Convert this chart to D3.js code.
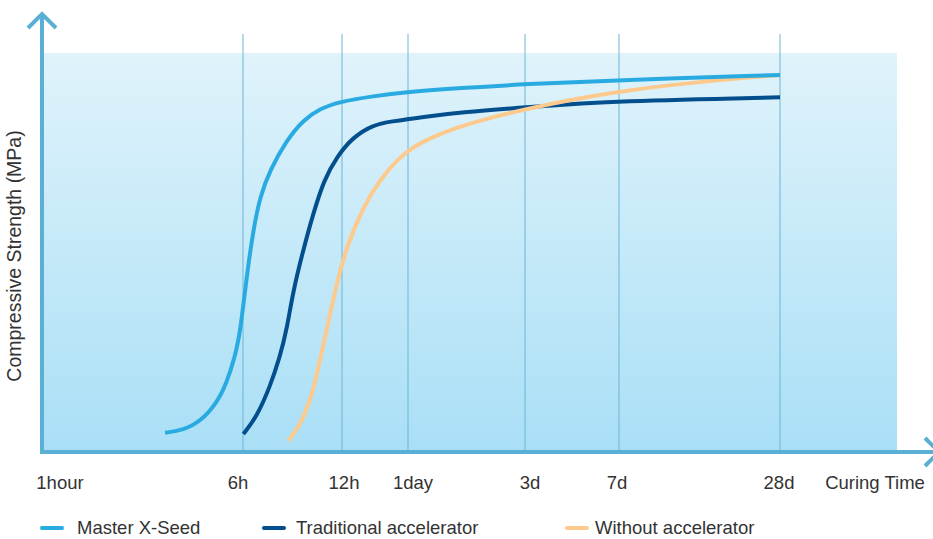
<!DOCTYPE html>
<html>
<head>
<meta charset="utf-8">
<script src="https://cdn.jsdelivr.net/npm/d3@7"></script>
<style>
  body { margin: 0; background: #fff; }
  text { font-family: "Liberation Sans", Arial, sans-serif; fill: #333; }
</style>
</head>
<body>
<div id="chart"></div>
<script>
// Tick hours and labels on the curing time axis
const tickHours = [1, 6, 12, 24, 72, 168, 672];
const tickLabels = ["1hour", "6h", "12h", "1day", "3d", "7d", "28d"];
const gridHours = [6, 12, 24, 72, 168, 672];

// Series (time in hours, relative strength 0-100)
const seriesNames = ["Master X-Seed", "Traditional accelerator", "Without accelerator"];

const xSeedHours = [3.87, 4.37, 4.83, 5.28, 5.55, 5.78, 5.92, 6.22, 6.62, 7.03, 7.64, 8.65, 9.65, 10.67, 11.88, 17.69, 23.76, 45.3, 72, 168, 672];
const xSeedStrength = [4.8, 5.5, 7.6, 12.2, 17.2, 23.9, 29.7, 43.9, 55.6, 64.0, 70.7, 78.2, 83.2, 86.1, 87.8, 89.2, 90.2, 91.2, 92.2, 93.2, 94.5];

const tradHours = [6.02, 6.83, 7.64, 8.24, 8.65, 9.05, 9.65, 10.26, 10.91, 11.68, 14.05, 17.69, 20.73, 30.28, 45.3, 72, 168, 672];
const tradStrength = [4.5, 8.8, 16.4, 23.9, 30.6, 40.6, 50.6, 59.8, 68.2, 74.0, 79.0, 82.0, 82.8, 84.0, 85.1, 86.4, 88.0, 88.9];

const noAccHours = [8.75, 9.65, 10.26, 10.67, 11.07, 11.68, 12.85, 15.87, 18.91, 21.94, 26.17, 34.38, 45.3, 72, 168, 420.6, 672];
const noAccStrength = [2.8, 8.0, 15.5, 23.1, 30.6, 42.3, 51.5, 61.5, 68.2, 73.2, 76.5, 79.0, 81.7, 86.1, 90.5, 92.8, 94.5];

const colors = ["#29abe2", "#034f8e", "#fdc98c"];

// Layout
const w = 933;
const h = 539;
const plotLeft = 42, plotRight = 897, plotTop = 53, plotBottom = 452;
const axisColor = "#5aafd4";

const svg = d3.select("#chart")
              .append("svg")
              .attr("width", w)
              .attr("height", h);

// gradient background
const grad = svg.append("defs")
                .append("linearGradient")
                .attr("id", "bg")
                .attr("x1", 0).attr("y1", 0)
                .attr("x2", 0).attr("y2", 1);
grad.append("stop").attr("offset", "0%").attr("stop-color", "#e0f3fb");
grad.append("stop").attr("offset", "100%").attr("stop-color", "#a9dff6");

svg.append("rect")
   .attr("x", plotLeft)
   .attr("y", plotTop)
   .attr("width", plotRight - plotLeft)
   .attr("height", plotBottom - plotTop)
   .attr("fill", "url(#bg)");

// piecewise scale: the tick spacing on the original is not uniform
const xScale = d3.scaleLinear()
                 .domain(tickHours)
                 .range([60, 243, 342, 408, 525, 619, 780]);
const yScale = d3.scaleLinear()
                 .domain([0, 100])
                 .range([plotBottom, plotTop]);

// vertical grid lines
svg.selectAll(".grid")
   .data(gridHours)
   .enter()
   .append("line")
   .attr("class", "grid")
   .attr("x1", d => xScale(d))
   .attr("x2", d => xScale(d))
   .attr("y1", 34)
   .attr("y2", plotBottom)
   .attr("stroke", "#6cb5d6")
   .attr("stroke-width", 1);

// curves (basis spline smooths out reading noise)
const line = d3.line()
               .x(d => xScale(d[0]))
               .y(d => yScale(d[1]))
               .curve(d3.curveBasis);

const series = [
    d3.zip(xSeedHours, xSeedStrength),
    d3.zip(tradHours, tradStrength),
    d3.zip(noAccHours, noAccStrength)
];

// draw order: traditional, without, master on top
[1, 2, 0].forEach(i => {
    svg.append("path")
       .datum(series[i])
       .attr("d", line)
       .attr("fill", "none")
       .attr("stroke", colors[i])
       .attr("stroke-width", 4);
});

// axes with arrow heads
const axes = svg.append("g")
                .attr("stroke", axisColor)
                .attr("stroke-width", 4)
                .attr("fill", "none");
axes.append("line").attr("x1", plotLeft).attr("x2", plotLeft).attr("y1", plotBottom + 2).attr("y2", 15);
axes.append("path").attr("d", `M${plotLeft - 14},28 L${plotLeft},14 L${plotLeft + 14},28`);
axes.append("line").attr("x1", plotLeft - 2).attr("x2", 938).attr("y1", plotBottom).attr("y2", plotBottom);
axes.append("path").attr("d", `M925,${plotBottom - 14} L939,${plotBottom} L925,${plotBottom + 14}`);

// tick labels (small nudges as in the original artwork)
const labelDx = [0, -5, 2, 5, 5, -2, -1];
svg.selectAll(".tick")
   .data(tickHours)
   .enter()
   .append("text")
   .attr("class", "tick")
   .attr("x", (d, i) => xScale(d) + labelDx[i])
   .attr("y", 489)
   .attr("text-anchor", "middle")
   .style("font-size", "18.5px")
   .text((d, i) => tickLabels[i]);

svg.append("text")
   .attr("x", 875)
   .attr("y", 489)
   .attr("text-anchor", "middle")
   .style("font-size", "18.5px")
   .text("Curing Time");

svg.append("text")
   .attr("transform", "translate(21,256) rotate(-90)")
   .attr("text-anchor", "middle")
   .style("font-size", "19.5px")
   .text("Compressive Strength (MPa)");

// legend
const legendX = [40, 262, 565];
const legendTextX = [77, 296, 595];
const legend = svg.selectAll(".legend")
                  .data(seriesNames)
                  .enter()
                  .append("g")
                  .attr("class", "legend");
legend.append("line")
      .attr("x1", (d, i) => legendX[i] + 2)
      .attr("x2", (d, i) => legendX[i] + 22)
      .attr("y1", 528)
      .attr("y2", 528)
      .attr("stroke", (d, i) => colors[i])
      .attr("stroke-width", 4)
      .attr("stroke-linecap", "round");
legend.append("text")
      .attr("x", (d, i) => legendTextX[i])
      .attr("y", 534)
      .style("font-size", "18.5px")
      .text(d => d);
</script>
</body>
</html>
